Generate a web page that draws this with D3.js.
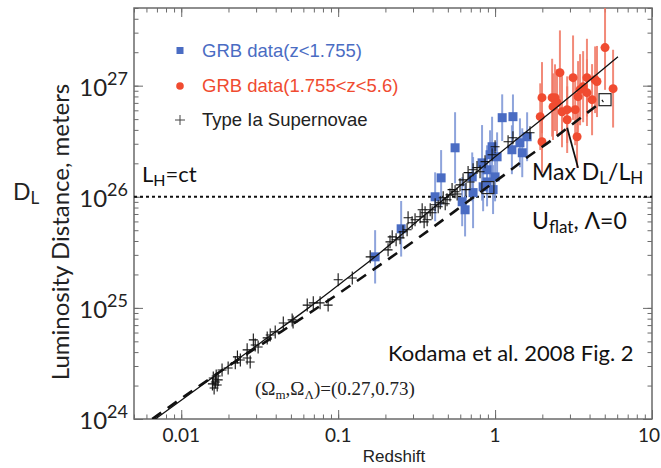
<!DOCTYPE html>
<html>
<head>
<meta charset="utf-8">
<script src="https://cdn.jsdelivr.net/npm/d3@7"></script>
<style>
  body { margin: 0; background: #fff; }
  svg { display: block; }
</style>
</head>
<body>
<div id="chart"></div>
<script>
// Type Ia supernovae (redshift, luminosity distance in m)
const snZ = [0.0160, 0.0165, 0.01695, 0.0162, 0.0172, 0.0167, 0.0158, 0.0182, 0.0199, 0.0221, 0.0228, 0.0238, 0.0263, 0.0275, 0.0263,
  0.0288, 0.0296, 0.0309, 0.0353, 0.0369, 0.0397, 0.0447, 0.0509, 0.0516, 0.0635, 0.0694, 0.0767, 0.0863, 0.100, 0.123,
  0.160, 0.208, 0.214, 0.221, 0.248, 0.275, 0.296, 0.309, 0.333, 0.358, 0.369, 0.279, 0.343, 0.447, 0.467, 0.494, 0.516,
  0.532, 0.598, 0.625, 0.673, 0.724, 0.767, 0.957, 1.00, 1.21, 1.30, 1.67, 0.415, 0.386, 0.556, 0.863,
  0.353, 0.397, 0.434, 0.481, 0.573, 0.653, 0.693, 0.802, 0.259, 0.234];
const snD = [2.34e24, 2.15e24, 2.02e24, 1.90e24, 2.25e24, 2.44e24, 2.07e24, 2.76e24, 2.88e24, 3.20e24, 3.62e24, 3.40e24, 3.54e24, 3.26e24, 4.19e24,
  5.15e24, 4.64e24, 4.45e24, 5.37e24, 5.71e24, 6.08e24, 7.32e24, 7.80e24, 7.48e24, 1.06e25, 1.11e25, 1.11e25, 1.06e25, 1.79e25, 1.86e25,
  2.88e25, 3.33e25, 3.93e25, 4.36e25, 4.27e25, 5.05e25, 5.83e25, 6.21e25, 6.61e25, 7.18e25, 6.21e25, 6.47e25, 7.64e25, 8.83e25, 9.80e25, 9.40e25, 1.04e26,
  1.16e26, 1.28e26, 1.42e26, 1.65e26, 1.75e26, 1.83e26, 2.39e26, 2.82e26, 3.13e26, 3.40e26, 3.77e26, 8.47e25, 7.64e25, 1.11e26, 2.07e26,
  5.95e25, 7.18e25, 8.13e25, 8.65e25, 1.06e26, 1.16e26, 1.36e26, 1.68e26, 4.84e25, 4.10e25];

// GRB z < 1.755 (error in dex)
const lowZ = [0.172, 0.252, 0.556, 0.453, 0.415, 0.644, 0.617, 0.724, 0.715, 0.826, 0.839, 0.957, 1.00, 0.971, 1.11, 1.30, 1.28, 1.49, 1.60, 1.44, 0.889, 1.03, 0.929, 0.889];
const lowD = [2.88e25, 5.15e25, 2.76e26, 1.48e26, 1.00e26, 7.64e25, 9.02e25, 1.09e26, 1.51e26, 2.02e26, 1.23e26, 2.82e26, 1.51e26, 1.16e26, 5.15e26, 5.26e26, 2.65e26, 2.49e26, 3.47e26, 3.06e26, 1.36e26, 2.29e26, 2.39e26, 1.75e26];
const lowErr = [0.24, 0.25, 0.32, 0.25, 0.22, 0.24, 0.22, 0.32, 0.22, 0.34, 0.22, 0.27, 0.22, 0.22, 0.21, 0.20, 0.22, 0.22, 0.22, 0.22, 0.22, 0.22, 0.22, 0.22];

// GRB 1.755 < z < 5.6
const highZ = [1.99, 1.94, 1.99, 2.31, 2.41, 2.48, 2.59, 2.67, 2.88, 3.14, 3.24, 3.33, 3.38, 3.48, 3.85, 3.85, 4.15, 4.46, 5.02, 5.65, 2.88, 2.34, 3.64, 4.34];
const highD = [7.80e26, 5.26e26, 3.13e26, 7.80e26, 7.80e26, 7.03e26, 1.31e27, 5.83e26, 4.94e26, 1.18e27, 6.08e26, 3.47e26, 7.96e26, 9.20e26, 1.18e27, 8.65e26, 7.48e26, 1.09e27, 2.20e27, 9.40e26, 6.08e26, 6.47e26, 9.79e26, 1.13e27];
const highErr = [0.32, 0.30, 0.28, 0.35, 0.30, 0.30, 0.38, 0.32, 0.30, 0.38, 0.32, 0.28, 0.32, 0.32, 0.35, 0.30, 0.32, 0.32, 0.38, 0.35, 0.30, 0.30, 0.32, 0.30];

// model curves
const lcdmZ = [0.00683, 0.0160, 0.0319, 0.0635, 0.103, 0.172, 0.333, 0.502, 1.00, 1.44, 2.59, 6.07];
const lcdmD = [1.00e24, 2.39e24, 4.84e24, 9.80e24, 1.65e25, 2.88e25, 6.34e25, 1.02e26, 2.29e26, 3.47e26, 6.74e26, 1.82e27];
const flatZ = [0.00653, 0.0130, 0.0205, 0.0385, 0.0767, 0.153, 0.305, 0.581, 0.863, 1.17, 1.62, 2.27, 3.14, 4.88];
const flatD = [1.00e24, 1.98e24, 3.07e24, 5.48e24, 1.04e25, 2.02e25, 4.01e25, 7.80e25, 1.18e26, 1.61e26, 2.29e26, 3.20e26, 4.55e26, 7.33e26];

// max D_L/L_H markers and pointer
const maxZ = [0.90, 5.02];
const maxD = [1.21e26, 7.48e26];
const pointerZ = [2.88, 3.38];
const pointerD = [4.19e26, 1.82e26];

const hubbleLength = 1e26;

// axes
const xTicks = [0.01, 0.1, 1, 10];
const xTickLabels = ['0.01', '0.1', '1', '10'];
const yTicks = [1e24, 1e25, 1e26, 1e27];
const yTickExps = ['24', '25', '26', '27'];

const W = 661, H = 468;
const plot = { left: 134, right: 652, top: 8, bottom: 419 };

const x = d3.scaleLog().domain([0.005, 10]).range([plot.left, plot.right]);
const y = d3.scaleLog().domain([1e24, 5e27]).range([plot.bottom, plot.top]);

const svg = d3.select('#chart').append('svg')
  .attr('width', W).attr('height', H)
  .attr('viewBox', `0 0 ${W} ${H}`);

svg.append('defs').append('clipPath').attr('id', 'clip')
  .append('rect')
  .attr('x', plot.left).attr('y', plot.top)
  .attr('width', plot.right - plot.left).attr('height', plot.bottom - plot.top);

const axisColor = '#6a6a6a';
const sans = 'Liberation Sans, Arial, sans-serif';
const human = 'Lato, Open Sans, sans-serif';

// ticks on all four sides, pointing inward
function styleAxis(g) {
  g.select('.domain').remove();
  g.selectAll('line').attr('stroke', axisColor).attr('stroke-width', 1);
  g.selectAll('text').remove();
}
const sides = [
  { axis: d3.axisBottom, scale: x, t: `translate(0,${plot.bottom})` },
  { axis: d3.axisTop, scale: x, t: `translate(0,${plot.top})` },
  { axis: d3.axisLeft, scale: y, t: `translate(${plot.left},0)` },
  { axis: d3.axisRight, scale: y, t: `translate(${plot.right},0)` }
];
sides.forEach(s => {
  const majors = s.scale === x ? xTicks : yTicks;
  svg.append('g').attr('transform', s.t)
    .call(s.axis(s.scale).tickValues(s.scale.ticks()).tickSize(-4.5).tickFormat(''))
    .call(styleAxis);
  svg.append('g').attr('transform', s.t)
    .call(s.axis(s.scale).tickValues(majors).tickSize(-9).tickFormat(''))
    .call(styleAxis);
});

// frame
svg.append('rect')
  .attr('x', plot.left).attr('y', plot.top)
  .attr('width', plot.right - plot.left).attr('height', plot.bottom - plot.top)
  .attr('fill', 'none').attr('stroke', axisColor).attr('stroke-width', 1.5);

// x tick labels (last one kept inside the page)
svg.append('g').selectAll('text')
  .data(xTicks)
  .join('text')
  .attr('x', (d, i) => i === xTicks.length - 1 ? W - 1 : x(d))
  .attr('y', 442)
  .attr('text-anchor', (d, i) => i === xTicks.length - 1 ? 'end' : 'middle')
  .attr('font-family', human)
  .attr('font-size', 19)
  .attr('fill', '#222')
  .text((d, i) => xTickLabels[i]);

// y tick labels (10^n)
const yLab = svg.append('g').selectAll('text')
  .data(yTicks)
  .join('text')
  .attr('x', 128)
  .attr('y', d => y(d) + 10)
  .attr('text-anchor', 'end')
  .attr('font-family', human)
  .attr('fill', '#222');
yLab.append('tspan').attr('font-size', 24).text('10');
yLab.append('tspan').attr('font-size', 18).attr('dy', -11).text((d, i) => yTickExps[i]);

// axis titles
svg.append('text')
  .attr('x', 394).attr('y', 462)
  .attr('text-anchor', 'middle')
  .attr('font-family', sans).attr('font-size', 17).attr('fill', '#222')
  .text('Redshift');

svg.append('text')
  .attr('transform', 'translate(69,232) rotate(-90)')
  .attr('text-anchor', 'middle')
  .attr('font-family', human).attr('font-size', 24).attr('fill', '#222')
  .text('Luminosity Distance, meters');

const dl = svg.append('text').attr('x', 13).attr('y', 200)
  .attr('font-family', human).attr('font-size', 23).attr('fill', '#222');
dl.append('tspan').text('D');
dl.append('tspan').attr('font-size', 17).attr('dy', 4).text('L');

// data layer
const chart = svg.append('g').attr('clip-path', 'url(#clip)');

// Hubble length
chart.append('line')
  .attr('x1', plot.left).attr('x2', plot.right)
  .attr('y1', y(hubbleLength)).attr('y2', y(hubbleLength))
  .attr('stroke', '#111').attr('stroke-width', 2)
  .attr('stroke-dasharray', '3,3');

const lowData = lowZ.map((z, i) => ({ z, d: lowD[i], e: lowErr[i] }));
const highData = highZ.map((z, i) => ({ z, d: highD[i], e: highErr[i] }));
const snData = snZ.map((z, i) => ({ z, d: snD[i] }));

// error bars
chart.append('g').selectAll('line')
  .data(lowData)
  .join('line')
  .attr('x1', d => x(d.z)).attr('x2', d => x(d.z))
  .attr('y1', d => y(d.d * Math.pow(10, d.e))).attr('y2', d => y(d.d / Math.pow(10, d.e)))
  .attr('stroke', '#7b95d6').attr('stroke-width', 2).attr('opacity', 0.85);

chart.append('g').selectAll('line')
  .data(highData)
  .join('line')
  .attr('x1', d => x(d.z)).attr('x2', d => x(d.z))
  .attr('y1', d => y(d.d * Math.pow(10, d.e))).attr('y2', d => y(d.d / Math.pow(10, d.e)))
  .attr('stroke', '#f07662').attr('stroke-width', 2).attr('opacity', 0.85);

// GRB markers
chart.append('g').selectAll('rect')
  .data(lowData)
  .join('rect')
  .attr('x', d => x(d.z) - 4.5).attr('y', d => y(d.d) - 4.5)
  .attr('width', 9).attr('height', 9)
  .attr('fill', '#4a6cc3');

chart.append('g').selectAll('circle')
  .data(highData)
  .join('circle')
  .attr('cx', d => x(d.z)).attr('cy', d => y(d.d))
  .attr('r', 4.5)
  .attr('fill', '#f04b30');

// supernovae
chart.append('g').selectAll('path')
  .data(snData)
  .join('path')
  .attr('transform', d => `translate(${x(d.z)},${y(d.d)})`)
  .attr('d', 'M-4.5,0H4.5M0,-6.5V6.5')
  .attr('stroke', '#111').attr('stroke-width', 1.1).attr('fill', 'none');

// model lines
const line = d3.line().x(d => x(d[0])).y(d => y(d[1])).curve(d3.curveMonotoneX);

chart.append('path')
  .datum(lcdmZ.map((z, i) => [z, lcdmD[i]]))
  .attr('d', line)
  .attr('fill', 'none').attr('stroke', '#111').attr('stroke-width', 1.3);

chart.append('path')
  .datum(flatZ.map((z, i) => [z, flatD[i]]))
  .attr('d', line)
  .attr('fill', 'none').attr('stroke', '#111').attr('stroke-width', 2.6)
  .attr('stroke-dasharray', '11,8');

// max D_L/L_H boxes
chart.append('g').selectAll('rect')
  .data(maxZ.map((z, i) => [z, maxD[i]]))
  .join('rect')
  .attr('x', d => x(d[0]) - 6).attr('y', d => y(d[1]) - 6)
  .attr('width', 12).attr('height', 12)
  .attr('fill', 'none').attr('stroke', '#222').attr('stroke-width', 1.2);

chart.append('line')
  .attr('x1', x(pointerZ[0])).attr('y1', y(pointerD[0]))
  .attr('x2', x(pointerZ[1])).attr('y2', y(pointerD[1]))
  .attr('stroke', '#111').attr('stroke-width', 1.8);

// legend
const legend = svg.append('g').attr('font-family', sans).attr('font-size', 18.5);
legend.append('rect').attr('x', 176.5).attr('y', 47).attr('width', 7).attr('height', 7).attr('fill', '#4a6cc3');
legend.append('text').attr('x', 202).attr('y', 57).attr('fill', '#4a6cc3').text('GRB data(z<1.755)');
legend.append('circle').attr('cx', 180).attr('cy', 86).attr('r', 3.8).attr('fill', '#f04b30');
legend.append('text').attr('x', 202).attr('y', 92).attr('fill', '#f04b30').text('GRB data(1.755<z<5.6)');
legend.append('path').attr('d', 'M175,120H185M180,115V125').attr('stroke', '#444').attr('stroke-width', 1);
legend.append('text').attr('x', 202).attr('y', 126).attr('fill', '#222').text('Type Ia Supernovae');

// annotations
const lh = svg.append('text').attr('x', 142).attr('y', 182)
  .attr('font-family', human).attr('font-size', 22).attr('fill', '#111');
lh.append('tspan').text('L');
lh.append('tspan').attr('font-size', 16).attr('dy', 4).text('H');
lh.append('tspan').attr('dy', -4).text('=ct');

const mx = svg.append('text').attr('x', 532).attr('y', 180)
  .attr('font-family', human).attr('font-size', 23).attr('fill', '#111');
mx.append('tspan').text('Max D');
mx.append('tspan').attr('font-size', 17).attr('dy', 4).text('L');
mx.append('tspan').attr('dy', -4).text('/L');
mx.append('tspan').attr('font-size', 17).attr('dy', 4).text('H');

const uf = svg.append('text').attr('x', 532).attr('y', 229)
  .attr('font-family', human).attr('font-size', 23).attr('fill', '#111');
uf.append('tspan').text('U');
uf.append('tspan').attr('font-size', 17).attr('dy', 4).text('flat');
uf.append('tspan').attr('dy', -4).text(', Λ=0');

svg.append('text').attr('x', 388).attr('y', 361)
  .attr('font-family', human).attr('font-size', 22).attr('fill', '#111')
  .text('Kodama et al. 2008 Fig. 2');

const om = svg.append('text').attr('x', 255).attr('y', 395)
  .attr('font-family', 'Liberation Serif, Times New Roman, serif').attr('font-size', 19).attr('fill', '#222');
om.append('tspan').text('(Ω');
om.append('tspan').attr('font-size', 13).attr('dy', 4).text('m');
om.append('tspan').attr('dy', -4).text(',Ω');
om.append('tspan').attr('font-size', 13).attr('dy', 4).text('Λ');
om.append('tspan').attr('dy', -4).text(')=(0.27,0.73)');
</script>
</body>
</html>
